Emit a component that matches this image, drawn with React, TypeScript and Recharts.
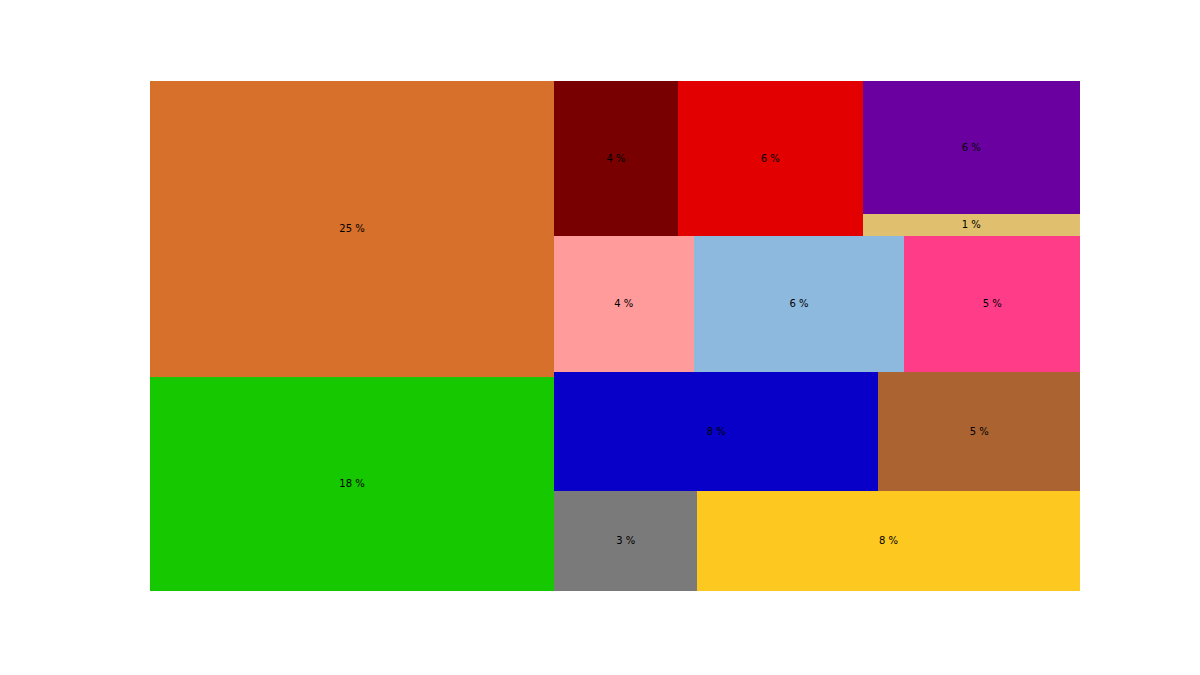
import { Treemap } from "recharts";

// shares in percent, in the order the squarify layout takes them (it fills from the bottom left)
const names = ["Green", "Orange", "Grey", "Yellow", "Blue", "Brown", "Pink", "Sky", "Rose", "Maroon", "Red", "Sand", "Purple"];
const values = [18.23, 25.21, 3.01, 8.07, 8.13, 5.07, 4.01, 6.05, 5.02, 4.05, 6.05, 1.01, 6.08];
const labels = ["18 %", "25 %", "3 %", "8 %", "8 %", "5 %", "4 %", "6 %", "5 %", "4 %", "6 %", "1 %", "6 %"];
const colors = [
  "#16C800", "#D6702A", "#7A7A7A", "#FDC921", "#0800C8", "#AB6431", "#FF9B9B",
  "#8EB9DF", "#FF3C87", "#780000", "#E20000", "#E0C06E", "#6A00A0",
];

const data = names.map((name, i) => ({ name, value: values[i], label: labels[i], color: colors[i] }));

// the layout is worked out on a (near) square box, like squarify's 100x100, then stretched onto the plot
const BOX_W = 1001;
const BOX_H = 1000;
const PLOT_W = 930;
const PLOT_H = 510;
const sx = PLOT_W / BOX_W;
const sy = PLOT_H / BOX_H;

const Cell = (props: any) => {
  const { x, y, width, height, depth, color, label } = props;
  if (depth !== 1) return null;
  // y axis points up in the original, so flip it
  const left = x * sx;
  const top = (BOX_H - y - height) * sy;
  const w = width * sx;
  const h = height * sy;
  return (
    <g>
      <rect x={left} y={top} width={w} height={h} fill={color} stroke="none" shapeRendering="crispEdges" />
      <text
        x={left + w / 2}
        y={top + h / 2}
        dy={-0.5}
        textAnchor="middle"
        dominantBaseline="central"
        fontFamily="DejaVu Sans"
        fontSize={10}
        fill="#000"
      >
        {label}
      </text>
    </g>
  );
};

export default function App() {
  return (
    <div
      style={{
        position: "absolute",
        left: 150,
        top: 81,
        width: PLOT_W,
        height: PLOT_H,
        overflow: "hidden",
      }}
    >
      <Treemap
        width={BOX_W}
        height={BOX_H}
        data={data}
        dataKey="value"
        aspectRatio={1}
        isAnimationActive={false}
        content={<Cell />}
      />
    </div>
  );
}
